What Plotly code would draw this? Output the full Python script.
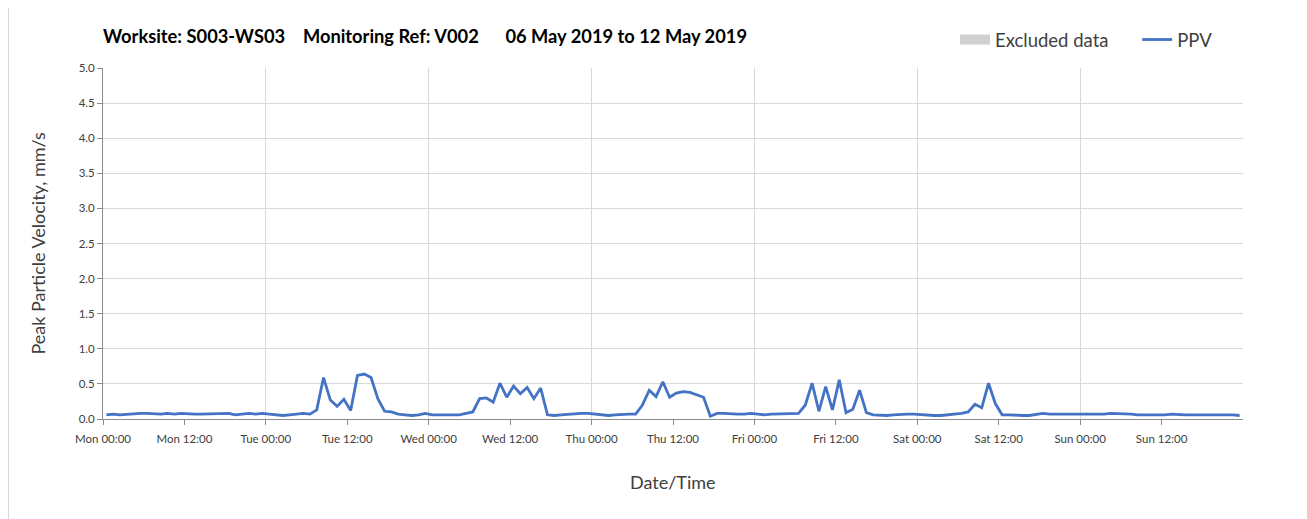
import pandas as pd
import plotly.graph_objects as go

# --- данные: почасовые значения PPV, мм/с ---
start = pd.Timestamp("2019-05-06 00:00")
end = pd.Timestamp("2019-05-13 00:00")

mon = [0.06, 0.07, 0.06, 0.07, 0.07, 0.08, 0.08, 0.07, 0.07, 0.08, 0.07, 0.08,
       0.07, 0.07, 0.07, 0.07, 0.08, 0.07, 0.08, 0.06, 0.07, 0.08, 0.07, 0.08]
tue = [0.07, 0.06, 0.05, 0.06, 0.07, 0.08, 0.07, 0.13, 0.59, 0.27, 0.18, 0.28,
       0.12, 0.62, 0.64, 0.59, 0.29, 0.11, 0.10, 0.07, 0.06, 0.05, 0.06, 0.08]
wed = [0.06, 0.06, 0.07, 0.07, 0.06, 0.08, 0.10, 0.29, 0.30, 0.24, 0.51, 0.31,
       0.47, 0.36, 0.45, 0.29, 0.44, 0.06, 0.05, 0.06, 0.07, 0.08, 0.08, 0.08]
thu = [0.07, 0.06, 0.05, 0.06, 0.07, 0.07, 0.07, 0.20, 0.41, 0.32, 0.53, 0.31,
       0.37, 0.39, 0.38, 0.35, 0.31, 0.04, 0.08, 0.08, 0.07, 0.07, 0.07, 0.08]
fri = [0.07, 0.06, 0.07, 0.07, 0.07, 0.08, 0.08, 0.20, 0.51, 0.11, 0.46, 0.13,
       0.56, 0.09, 0.14, 0.41, 0.09, 0.06, 0.05, 0.05, 0.06, 0.07, 0.07, 0.07]
sat = [0.06, 0.06, 0.05, 0.05, 0.06, 0.06, 0.08, 0.10, 0.21, 0.16, 0.51, 0.22,
       0.06, 0.06, 0.05, 0.05, 0.05, 0.06, 0.08, 0.07, 0.07, 0.06, 0.06, 0.07]
sun = [0.06, 0.06, 0.06, 0.07, 0.08, 0.08, 0.07, 0.07, 0.06, 0.06, 0.06, 0.05,
       0.06, 0.07, 0.06, 0.06, 0.06, 0.06, 0.07, 0.07, 0.07, 0.07, 0.06, 0.05]

ppv = mon + tue + wed + thu + fri + sat + sun
times = pd.date_range(start + pd.Timedelta(minutes=30), periods=len(ppv), freq="h")

# исключённых данных за неделю нет - только пункт легенды
excluded_times = [None]
excluded_vals = [None]

tick_vals = pd.date_range(start, end - pd.Timedelta(hours=12), freq="12h")
y_ticks = [0.0, 0.5, 1.0, 1.5, 2.0, 2.5, 3.0, 3.5, 4.0, 4.5, 5.0]

# страница браузера добавляет отступ 8px - учитываем его в полях
W, H = 1307, 519
L, R, T, B = 95, 72, 60, 108
PW, PH = W - L - R, H - T - B

FONT = "Lato, 'Open Sans', sans-serif"
TXT = "#404040"
AXIS_COL = "#8c8c8c"
GRID_COL = "#d9d9d9"
NB = "\u00a0"

fig = go.Figure()

fig.add_trace(go.Scatter(
    x=excluded_times, y=excluded_vals, mode="lines", name="Excluded data" + NB * 5,
    line=dict(color="#d0d0d0", width=13),
))
fig.add_trace(go.Scatter(
    x=times, y=ppv, mode="lines", name="PPV",
    line=dict(color="#4472C4", width=2.8),
))

# второй невидимый x для суточных линий сетки
fig.add_trace(go.Scatter(x=[start, end], y=[None, None], xaxis="x2",
                         showlegend=False, hoverinfo="skip"))

fig.update_layout(
    width=W, height=H,
    margin=dict(l=L, r=R, t=T, b=B, autoexpand=False),
    paper_bgcolor="white", plot_bgcolor="white",
    font=dict(family=FONT, color=TXT),
    title=dict(
        text="<b>Worksite: S003-WS03" + NB * 4 + "Monitoring Ref: V002"
             + NB * 6 + "06 May 2019 to 12 May 2019</b>",
        x=L / W, xanchor="left", y=1 - 29 / H, yanchor="middle",
        font=dict(size=18.3, color="black", family=FONT),
    ),
    legend=dict(
        orientation="h", x=(1210 - L) / PW, xanchor="right",
        y=1 + (T - 32) / PH, yanchor="middle",
        font=dict(size=18.5, color=TXT),
        traceorder="normal", itemwidth=30, tracegroupgap=0,
        bgcolor="rgba(0,0,0,0)",
    ),
    xaxis=dict(
        type="date", range=[start, end], automargin=False,
        tickmode="array", tickvals=tick_vals, tickformat="%a %H:%M",
        tickfont=dict(size=11.5, color=TXT), ticklabelstandoff=4,
        showgrid=False, showline=True, linecolor=AXIS_COL, linewidth=1,
        ticks="outside", ticklen=5, tickcolor=AXIS_COL,
        zeroline=False,
    ),
    xaxis2=dict(
        type="date", range=[start, end], overlaying="x", automargin=False,
        dtick=86400000, tick0=start, showgrid=True, gridcolor=GRID_COL, gridwidth=1,
        showticklabels=False, ticks="", showline=False, zeroline=False,
    ),
    yaxis=dict(
        range=[0, 5], automargin=False, tickmode="array", tickvals=y_ticks,
        tickformat=".1f", tickfont=dict(size=11.5, color=TXT),
        showgrid=True, gridcolor=GRID_COL, gridwidth=1,
        showline=True, linecolor=AXIS_COL, linewidth=1,
        ticks="outside", ticklen=5, tickcolor=AXIS_COL,
        zeroline=False,
    ),
    showlegend=True,
)

# подписи осей
fig.add_annotation(text="Date/Time", xref="paper", yref="paper",
                   x=0.5, y=-(474 - T - PH) / PH, showarrow=False,
                   font=dict(size=18, color=TXT), xanchor="center", yanchor="middle")
fig.add_annotation(text="Peak Particle Velocity, mm/s", xref="paper", yref="paper",
                   x=-(L - 29) / PW, y=0.5, textangle=-90, showarrow=False,
                   font=dict(size=18, color=TXT), xanchor="center", yanchor="middle")

# светлая линия рамки слева
fig.add_shape(type="line", xref="paper", yref="paper",
              x0=-(L - 0.5) / PW, x1=-(L - 0.5) / PW, y0=-B / PH, y1=1 + T / PH,
              line=dict(color="#d9d9d9", width=1))

fig.write_html("out.html")
